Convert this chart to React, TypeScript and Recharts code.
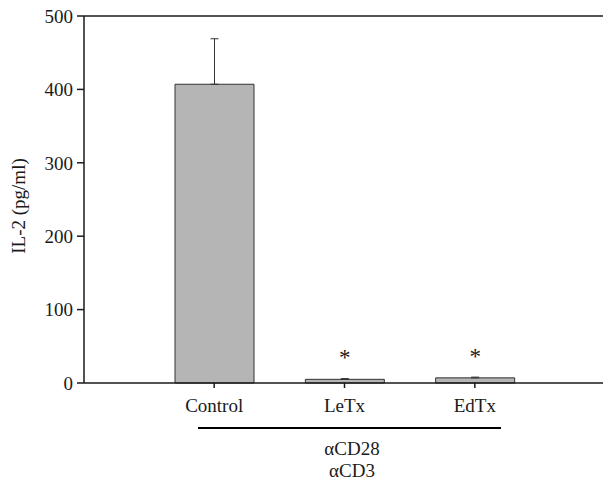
import { BarChart, Bar, XAxis, YAxis, ErrorBar, ReferenceLine, LabelList } from "recharts";

const groups = ["Control", "LeTx", "EdTx"];
const il2 = [407, 5, 7];
const il2Err = [62, 1, 1];
const signif = ["", "*", "*"];
const yTicks = [0, 100, 200, 300, 400, 500];
const stimulus = ["αCD28", "αCD3"];

const data = groups.map((g, i) => ({
  group: g,
  value: il2[i],
  err: [0, il2Err[i]],
  star: signif[i],
}));

const FONT = "'Liberation Serif', 'Times New Roman', serif";
const INK = "#1a1a1a";
const FS = 19;

function Star(props: any) {
  const { x, y, width, value } = props;
  if (!value) return null;
  return (
    <text x={x + width / 2} y={y - 14} textAnchor="middle" fontFamily={FONT} fontSize={23} fill={INK}>
      {value}
    </text>
  );
}

export default function App() {
  return (
    <div style={{ position: "absolute", left: 0, top: 0, width: 604, height: 480, background: "#fff" }}>
      <BarChart
        width={604}
        height={480}
        data={data}
        margin={{ top: 16, right: 1, left: 0, bottom: 67 }}
      >
        <XAxis
          dataKey="group"
          padding={{ left: 65, right: 63 }}
          tickSize={5}
          tickMargin={11}
          stroke={INK}
          strokeWidth={1.5}
          tick={{ fontFamily: FONT, fontSize: FS, fill: INK }}
        />
        <YAxis
          width={84}
          domain={[0, 500]}
          ticks={yTicks}
          tickSize={7}
          tickMargin={4}
          stroke={INK}
          strokeWidth={1.5}
          tick={{ fontFamily: FONT, fontSize: FS, fill: INK }}
          label={{
            content: () => (
              <text
                x={18}
                y={206}
                transform="rotate(-90, 18, 206)"
                textAnchor="middle"
                dominantBaseline="central"
                fontFamily={FONT}
                fontSize={FS}
                fill={INK}
              >
                IL-2 (pg/ml)
              </text>
            ),
          }}
        />
        <ReferenceLine y={500} stroke={INK} strokeWidth={1.5} />
        <Bar dataKey="value" fill="#b5b5b5" stroke="#333" strokeWidth={1} barSize={79} isAnimationActive={false}>
          <ErrorBar dataKey="err" width={4} stroke="#333" strokeWidth={1} direction="y" />
          <LabelList dataKey="star" content={<Star />} />
        </Bar>
      </BarChart>
      <svg width={604} height={480} style={{ position: "absolute", left: 0, top: 0, pointerEvents: "none" }}>
        <line x1={198} x2={501} y1={428} y2={428} stroke="#000" strokeWidth={2} />
        {stimulus.map((s, i) => (
          <text key={s} x={352} y={455 + i * 22} textAnchor="middle" fontFamily={FONT} fontSize={FS} fill={INK}>
            {s}
          </text>
        ))}
      </svg>
    </div>
  );
}
